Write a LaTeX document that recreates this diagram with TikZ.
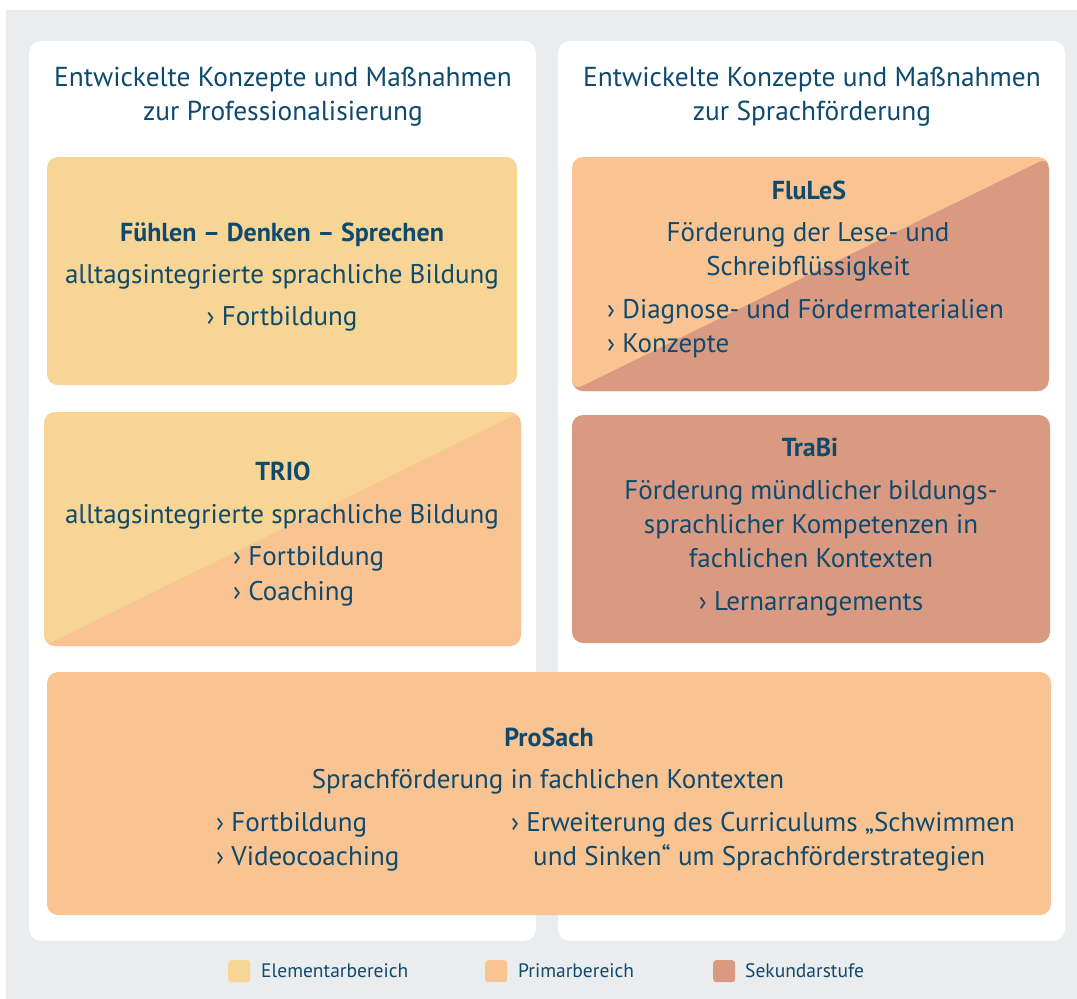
\documentclass[tikz,border=0pt]{standalone}
\usepackage{fontspec}
\setmainfont{PT Sans}
\definecolor{pagegray}{HTML}{EBECEE}
\definecolor{elem}{HTML}{F7D594}
\definecolor{prim}{HTML}{F9C392}
\definecolor{seku}{HTML}{DA9A82}
\definecolor{ink}{HTML}{0E4A6E}
\newcommand{\chev}{\char"203A\ }
\begin{document}
\begin{tikzpicture}[x=1pt,y=-1pt,
  panel/.style={fill=white,rounded corners=12pt,inner sep=0pt,outer sep=0pt,anchor=north west},
  card/.style={rounded corners=11pt,inner sep=0pt,outer sep=0pt,anchor=north west},
  split/.style 2 args={card,fill=#1,path picture={
      \fill[#2] (path picture bounding box.south west) -- (path picture bounding box.north east) |- cycle;}},
  txt/.style={text=ink,font=\fontsize{27}{32}\selectfont,inner sep=0pt,anchor=mid,yshift=-7pt},
  title/.style={txt,font=\fontsize{27.4}{32}\selectfont},
  head/.style={txt,font=\fontsize{26}{32}\selectfont\bfseries},
  item/.style={txt,anchor=mid west},
  legsq/.style={rounded corners=3pt,minimum size=22pt,inner sep=0pt,anchor=north west},
  legtxt/.style={text=ink,font=\fontsize{19.5}{22}\selectfont,inner sep=0pt,anchor=mid west,yshift=-4pt}]
\useasboundingbox (0,0) rectangle (1077,999);
\fill[pagegray] (6,10) rectangle (1077,999);

% two white columns
\node[panel,minimum width=507pt,minimum height=900pt] (leftpanel) at (29,41) {};
\node[panel,minimum width=507pt,minimum height=900pt] (rightpanel) at (558,41) {};

\node[title] (ltitle1) at (283,77) {Entwickelte Konzepte und Maßnahmen};
\node[title] (ltitle2) at (283,111) {zur Professionalisierung};
\node[title] (rtitle1) at (812,77) {Entwickelte Konzepte und Maßnahmen};
\node[title] (rtitle2) at (812,111) {zur Sprachförderung};

% cards
\node[card,fill=elem,minimum width=470pt,minimum height=228pt] (fds) at (47,157) {};
\node[split={elem}{prim},minimum width=477pt,minimum height=234pt] (trio) at (44,412) {};
\node[split={prim}{seku},minimum width=477pt,minimum height=234pt] (flules) at (572,157) {};
\node[card,fill=seku,minimum width=478pt,minimum height=228pt] (trabi) at (572,415) {};
\node[card,fill=prim,minimum width=1004pt,minimum height=243pt] (prosach) at (47,672) {};

% Fühlen – Denken – Sprechen
\node[head] (fdsh) at (282,232) {Fühlen – Denken – Sprechen};
\node[txt] (fdst) at (282,274) {alltagsintegrierte sprachliche Bildung};
\node[txt] (fdsi) at (282,316) {\chev Fortbildung};

% TRIO
\node[head] (trioh) at (283,471) {TRIO};
\node[txt] (triot) at (282,514) {alltagsintegrierte sprachliche Bildung};
\node[item] (trioa) at (233,556) {\chev Fortbildung};
\node[item] (triob) at (233,591) {\chev Coaching};

% FluLeS
\node[head] (flulesh) at (809,190) {FluLeS};
\node[txt] (flulest1) at (808,232) {Förderung der Lese- und};
\node[txt] (flulest2) at (808,266) {Schreibflüssigkeit};
\node[item] (flulesa) at (607,309) {\chev Diagnose- und Fördermaterialien};
\node[item] (flulesb) at (607,343) {\chev Konzepte};

% TraBi
\node[head] (trabih) at (810,447) {TraBi};
\node[txt] (trabit1) at (811,490) {Förderung mündlicher bildungs-};
\node[txt] (trabit2) at (811,524) {sprachlicher Kompetenzen in};
\node[txt] (trabit3) at (811,558) {fachlichen Kontexten};
\node[txt] (trabii) at (811,601) {\chev Lernarrangements};

% ProSach
\node[head] (prosachh) at (549,737) {ProSach};
\node[txt] (prosacht) at (548,779) {Sprachförderung in fachlichen Kontexten};
\node[item] (prosacha) at (216,822) {\chev Fortbildung};
\node[item] (prosachb) at (216,856) {\chev Videocoaching};
\node[item] (prosachc) at (511,822) {\chev Erweiterung des Curriculums „Schwimmen};
\node[item] (prosachd) at (533,856) {und Sinken“ um Sprachförderstrategien};

% legend
\node[legsq,fill=elem] (lg1) at (228,960) {};
\node[legtxt] (lt1) at (261,971) {Elementarbereich};
\node[legsq,fill=prim] (lg2) at (485,960) {};
\node[legtxt] (lt2) at (518,971) {Primarbereich};
\node[legsq,fill=seku] (lg3) at (713,960) {};
\node[legtxt] (lt3) at (745,971) {Sekundarstufe};
\end{tikzpicture}
\end{document}
